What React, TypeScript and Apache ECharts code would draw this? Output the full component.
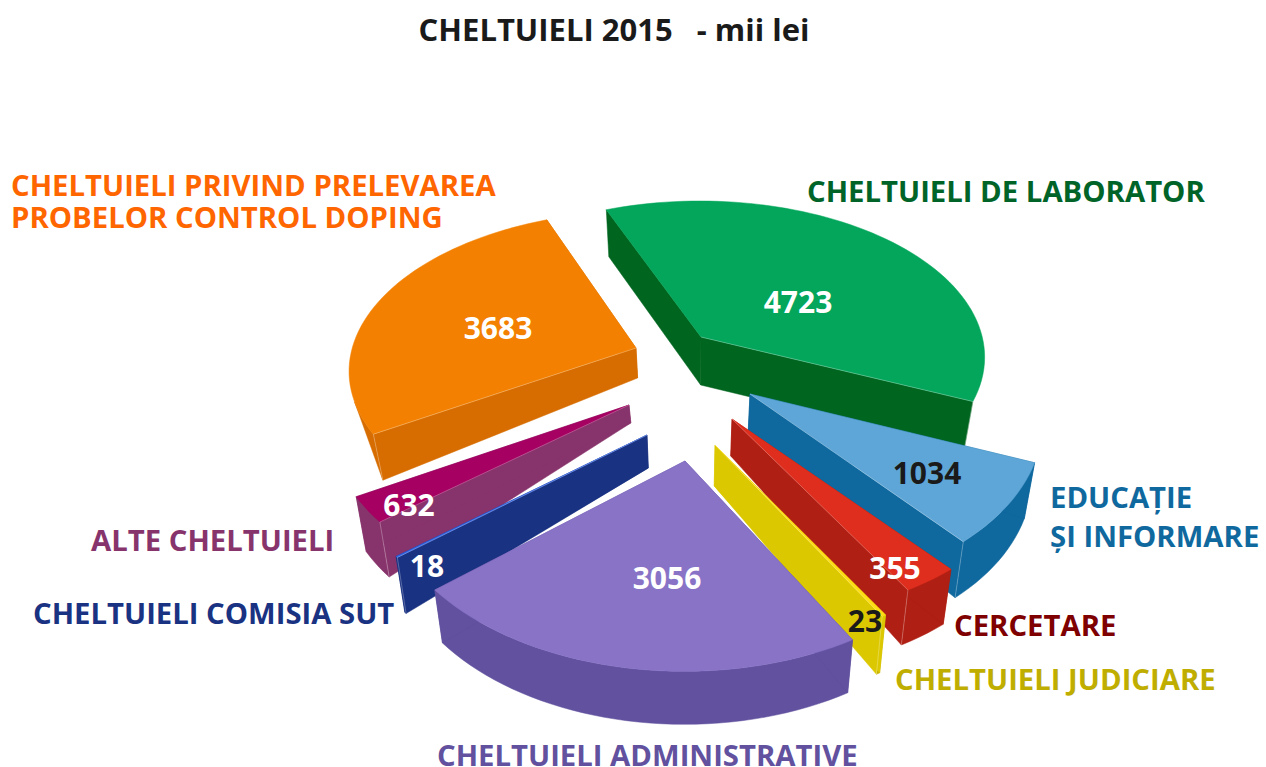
import React, { useEffect, useRef } from "react";
import * as echarts from "echarts";

const categories = [
  "CHELTUIELI DE LABORATOR",
  "EDUCAȚIE\nȘI INFORMARE",
  "CERCETARE",
  "CHELTUIELI JUDICIARE",
  "CHELTUIELI ADMINISTRATIVE",
  "CHELTUIELI COMISIA SUT",
  "ALTE CHELTUIELI",
  "CHELTUIELI PRIVIND PRELEVAREA\nPROBELOR CONTROL DOPING",
];
// Values printed on the slices.
const values = [4723, 1034, 355, 23, 3056, 18, 632, 3683];
// Angular size of each slice as drawn in the picture, in degrees.
const sliceDegrees = [135.4, 27.9, 9.5, 0.7, 79.5, 0.4, 9.2, 99.6];
const START_ANGLE = -21.6;

const topColors = ["#03A65A", "#5EA6D7", "#DF2E1E", "#FFDD15", "#8873C7", "#3366E6", "#A50062", "#F38000"];
const wallColors = ["#00651F", "#0F689E", "#AF1F13", "#DCC800", "#61519E", "#1A3282", "#88346C", "#D76D00"];
const rimColors = ["#00651F", "#0F689E", "#AF1F13", "#C4B000", "#61519E", "#1A3282", "#88346C", "#D76D00"];
const valueColors = ["#FFFFFF", "#1A1A1A", "#FFFFFF", "#1A1A1A", "#FFFFFF", "#FFFFFF", "#FFFFFF", "#FFFFFF"];

// Layout of the exploded, perspective pie.
const apexU = [701, 750, 732, 715, 685, 647, 629, 636];
const apexV = [337, 394, 419, 445, 461, 435, 405, 348];
const depthApex = [48, 38, 37, 41, 40, 33, 18, 30];
const depthOuter = [47, 56, 55, 58, 53, 56, 55, 46];
const radiusX = [0.99, 0.97, 1, 0.96, 0.955, 0.965, 0.975, 0.99];
const radiusY = [1, 1.03, 1, 0.96, 0.98, 0.965, 0.975, 0.99];
const angleShift = [-0.2, -1.6, -1, -1.2, -1.7, -2, -2, -2.5];
// Degrees of outer wall shown next to the visible corner; null = the whole arc.
const rimSpan: (number | null)[] = [0, null, null, null, null, null, null, 12];
const paintOrder = [1, 2, 3, 4, 5, 3, 2, 1];
const valueLabelU = [798, 927, 895, 865, 667, 427, 409, 498];
const valueLabelV = [301, 472, 567, 620, 577, 565, 504, 327];
const nameLabelX = [807, 1050, 954, 895, 437, 33, 91, 11];
const nameLabelY = [191, 516.5, 625, 679, 755, 613, 540, 201];
const nameLabelLineHeight = [32, 39, 32, 32, 32, 32, 32, 32];
const nameColors = ["#006428", "#10699E", "#7F0000", "#BFAE00", "#61519E", "#1A3282", "#88346C", "#FF6600"];

const CX = 690, CY = 384, SX = 295, SY = 165, PERSP = 0.13, CONVERGE = 0.03;
const FONT = '"Open Sans", "Noto Sans", sans-serif';

const project = (x: number, y: number): [number, number] => {
  const w = 1 - PERSP * y;
  return [CX + (SX * x) / w, CY + (SY * y) / w];
};
const unproject = (u: number, v: number): [number, number] => {
  const dv = v - CY;
  const y = dv / (SY + PERSP * dv);
  const w = 1 - PERSP * y;
  return [((u - CX) * w) / SX, y];
};
const drop = (p: number[], depth: number): [number, number] => [p[0] + (CX - p[0]) * CONVERGE, p[1] + depth];

const renderSlice = (params: any) => {
  const i = params.dataIndex;
  let a0 = START_ANGLE;
  for (let k = 0; k < i; k++) a0 += sliceDegrees[k];
  a0 += angleShift[i];
  const a1 = a0 + sliceDegrees[i];
  const [ax, ay] = unproject(apexU[i], apexV[i]);
  const apex: [number, number] = [apexU[i], apexV[i]];
  const steps = Math.max(2, Math.ceil(sliceDegrees[i] / 2));
  const arc: [number, number][] = [];
  for (let s = 0; s <= steps; s++) {
    const t = ((a0 + ((a1 - a0) * s) / steps) * Math.PI) / 180;
    arc.push(project(ax + radiusX[i] * Math.sin(t), ay - radiusY[i] * Math.cos(t)));
  }
  const arcLow = arc.map((p) => drop(p, depthOuter[i]));
  const apexLow = drop(apex, depthApex[i]);
  const leftSide = a0 + sliceDegrees[i] / 2 > 180 && i !== 4;
  const corner = leftSide ? arc[0] : arc[arc.length - 1];
  const cornerLow = leftSide ? arcLow[0] : arcLow[arcLow.length - 1];
  const z = paintOrder[i] * 10;
  const seam = "rgba(255,255,255,0.35)";
  const poly = (points: number[][], fill: string, zz: number) => ({
    type: "polygon",
    z2: zz,
    shape: { points },
    style: { fill, stroke: fill, lineWidth: 0.5 },
    silent: true,
  });
  const line = (p: number[], q: number[]) => ({
    type: "line",
    z2: z + 3,
    shape: { x1: p[0], y1: p[1], x2: q[0], y2: q[1] },
    style: { stroke: seam, lineWidth: 0.8 },
    silent: true,
  });
  const span = rimSpan[i];
  const children: any[] = [];
  if (span === null) {
    children.push(poly([...arc, ...arcLow.slice().reverse()], rimColors[i], z));
  } else if (span > 0) {
    const n = Math.round(span / (sliceDegrees[i] / steps));
    children.push(poly([...arc.slice(0, n + 1), arcLow[0]], rimColors[i], z));
  }
  children.push(
    poly([apex, arc[0], arcLow[0], apexLow], wallColors[i], z + 1),
    poly([apex, arc[arc.length - 1], arcLow[arcLow.length - 1], apexLow], wallColors[i], z + 1),
    poly([apex, ...arc], topColors[i], z + 2)
  );
  if (i !== 4) children.push(line(apex, corner), line(corner, cornerLow));
  children.push({
    type: "text",
    z2: 200,
    x: valueLabelU[i],
    y: valueLabelV[i],
    silent: true,
    style: {
      text: String(values[i]),
      fill: valueColors[i],
      font: `bold 30px ${FONT}`,
      align: "center",
      verticalAlign: "middle",
    },
  });
  return { type: "group", children };
};

export default function App() {
  const ref = useRef<HTMLDivElement>(null);
  useEffect(() => {
    const chart = echarts.init(ref.current!, null, { renderer: "svg" });
    chart.setOption({
      animation: false,
      backgroundColor: "#FFFFFF",
      title: {
        text: "CHELTUIELI 2015   - mii lei",
        left: 609,
        top: 8,
        textAlign: "center",
        textStyle: { fontFamily: FONT, fontWeight: "bold", fontSize: 31, color: "#1A1A1A" },
      },
      graphic: categories.map((name, i) => ({
        type: "text",
        x: nameLabelX[i],
        y: nameLabelY[i],
        silent: true,
        style: {
          text: name,
          fill: nameColors[i],
          font: `bold 29.3px ${FONT}`,
          lineHeight: nameLabelLineHeight[i],
          align: "left",
          verticalAlign: "middle",
        },
      })),
      series: [
        {
          type: "custom",
          coordinateSystem: "none",
          silent: true,
          renderItem: renderSlice,
          data: categories.map((name, i) => ({ name: name.replace("\n", " "), value: [i, values[i], sliceDegrees[i]] })),
        },
      ],
    });
    return () => chart.dispose();
  }, []);
  return <div ref={ref} style={{ position: "fixed", left: 0, top: 0, width: 1266, height: 767 }} />;
}
